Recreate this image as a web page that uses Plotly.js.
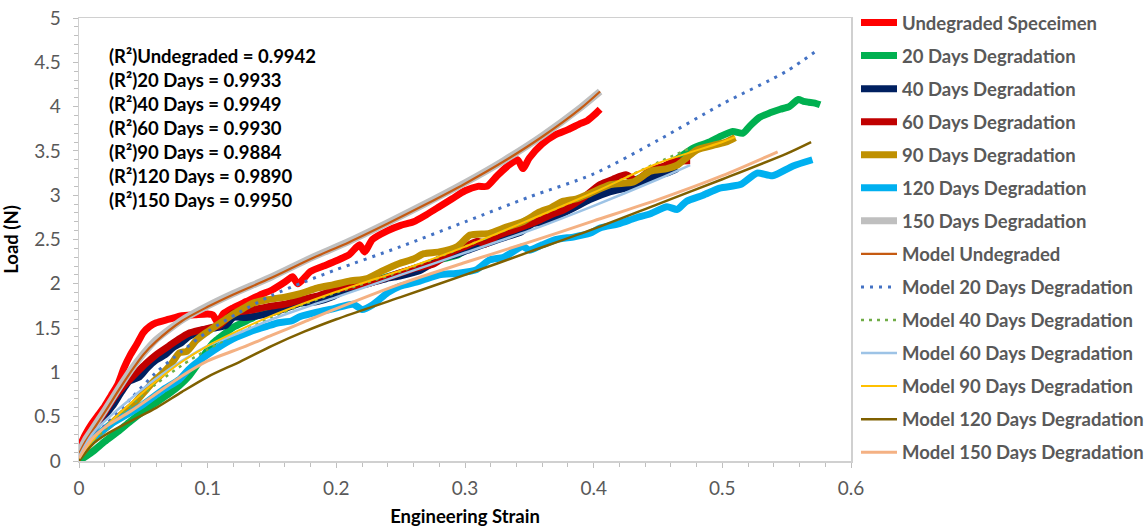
<!DOCTYPE html>
<html>
<head>
<meta charset="utf-8">
<script src="https://cdn.plot.ly/plotly-3.0.1.min.js"></script>
<style>html,body{margin:0;padding:0;background:#fff;}#chart{width:1147px;height:529px;}</style>
</head>
<body>
<div id="chart"></div>
<script>
// ---------------- data ----------------
var seriesNames = ["Undegraded Speceimen", "20 Days Degradation", "40 Days Degradation",
  "60 Days Degradation", "90 Days Degradation", "120 Days Degradation", "150 Days Degradation"];
var modelNames = ["Model Undegraded", "Model 20 Days Degradation", "Model 40 Days Degradation",
  "Model 60 Days Degradation", "Model 90 Days Degradation", "Model 120 Days Degradation",
  "Model 150 Days Degradation"];

// experimental curves
var undegradedX = [0,0.005,0.01,0.015,0.02,0.025,0.03,0.035,0.04,0.045,0.05,0.055,0.06,0.07,0.08,0.09,0.1,0.104,0.108,0.112,0.12,0.13,0.14,0.15,0.16,0.166,0.17,0.18,0.19,0.2,0.21,0.218,0.222,0.228,0.24,0.25,0.26,0.27,0.28,0.29,0.3,0.31,0.317,0.325,0.335,0.341,0.345,0.35,0.36,0.37,0.38,0.39,0.395,0.4,0.405];
var undegradedY = [0.15,0.3,0.42,0.52,0.62,0.74,0.86,1.05,1.2,1.32,1.45,1.52,1.56,1.6,1.64,1.65,1.66,1.65,1.56,1.66,1.73,1.8,1.87,1.93,2.02,2.08,2.0,2.14,2.2,2.26,2.33,2.44,2.36,2.5,2.6,2.66,2.7,2.78,2.87,2.96,3.05,3.1,3.1,3.22,3.35,3.4,3.3,3.42,3.58,3.68,3.74,3.81,3.84,3.9,3.97];

var d20X = [0,0.01,0.02,0.03,0.04,0.05,0.06,0.07,0.078,0.085,0.095,0.104,0.109,0.12,0.13,0.14,0.15,0.165,0.18,0.2,0.22,0.24,0.26,0.28,0.295,0.304,0.315,0.33,0.348,0.36,0.375,0.387,0.4,0.42,0.44,0.46,0.477,0.49,0.498,0.508,0.516,0.522,0.529,0.537,0.545,0.552,0.559,0.563,0.567,0.572,0.576];
var d20Y = [0,0.1,0.22,0.33,0.45,0.56,0.66,0.76,0.85,0.95,1.15,1.33,1.39,1.51,1.58,1.65,1.7,1.76,1.82,1.9,1.99,2.08,2.17,2.27,2.33,2.42,2.46,2.55,2.72,2.72,2.82,2.93,3.0,3.1,3.22,3.36,3.53,3.6,3.66,3.72,3.7,3.79,3.88,3.93,3.97,4.0,4.08,4.06,4.05,4.04,4.02];

var d40X = [0,0.008,0.015,0.026,0.033,0.039,0.047,0.053,0.06,0.067,0.073,0.08,0.085,0.09,0.096,0.105,0.114,0.12,0.13,0.146,0.16,0.172,0.185,0.198,0.21,0.224,0.239,0.25,0.265,0.28,0.293,0.306,0.32,0.332,0.343,0.353,0.362,0.371,0.385,0.397,0.413,0.43,0.445,0.457,0.465];
var d40Y = [0.05,0.27,0.42,0.62,0.78,0.9,0.95,1.05,1.14,1.2,1.28,1.34,1.4,1.44,1.48,1.5,1.53,1.62,1.62,1.66,1.72,1.78,1.8,1.86,1.95,2.0,2.06,2.09,2.15,2.28,2.33,2.4,2.47,2.53,2.58,2.68,2.7,2.76,2.86,2.95,3.04,3.1,3.2,3.25,3.3];

var d60X = [0,0.01,0.02,0.026,0.035,0.045,0.052,0.06,0.07,0.078,0.085,0.095,0.109,0.12,0.133,0.146,0.16,0.172,0.185,0.198,0.212,0.224,0.237,0.249,0.262,0.275,0.29,0.3,0.31,0.316,0.325,0.34,0.355,0.37,0.376,0.39,0.405,0.415,0.425,0.433,0.444,0.455,0.462,0.475];
var d60Y = [0.1,0.35,0.55,0.69,0.85,1.0,1.1,1.2,1.3,1.38,1.44,1.48,1.53,1.67,1.7,1.74,1.77,1.82,1.86,1.93,1.97,2.0,2.06,2.12,2.18,2.22,2.36,2.42,2.48,2.45,2.54,2.62,2.7,2.8,2.83,2.95,3.12,3.18,3.23,3.17,3.28,3.33,3.38,3.39];

var d90X = [0,0.015,0.025,0.034,0.043,0.052,0.058,0.065,0.072,0.078,0.084,0.091,0.098,0.104,0.109,0.117,0.125,0.135,0.146,0.16,0.172,0.185,0.198,0.21,0.224,0.235,0.249,0.26,0.268,0.28,0.294,0.304,0.319,0.332,0.345,0.358,0.367,0.376,0.387,0.397,0.413,0.431,0.444,0.457,0.465,0.472,0.48,0.495,0.503,0.51];
var d90Y = [0.05,0.3,0.42,0.54,0.65,0.8,0.9,0.99,1.1,1.22,1.24,1.36,1.44,1.5,1.55,1.63,1.7,1.78,1.82,1.85,1.89,1.95,1.99,2.03,2.06,2.14,2.23,2.28,2.34,2.36,2.42,2.55,2.57,2.64,2.7,2.81,2.86,2.93,2.96,3.02,3.12,3.15,3.27,3.3,3.34,3.42,3.51,3.57,3.6,3.65];

var d120X = [0,0.008,0.0155,0.025,0.039,0.05,0.065,0.078,0.085,0.1,0.12,0.133,0.146,0.155,0.165,0.172,0.185,0.198,0.213,0.22,0.228,0.24,0.249,0.265,0.28,0.295,0.309,0.319,0.33,0.345,0.35,0.36,0.371,0.385,0.397,0.405,0.42,0.432,0.444,0.457,0.465,0.472,0.485,0.498,0.514,0.527,0.539,0.555,0.57];
var d120Y = [0.05,0.2,0.31,0.42,0.54,0.64,0.8,0.92,1.03,1.2,1.38,1.46,1.52,1.56,1.58,1.63,1.68,1.72,1.77,1.71,1.76,1.9,1.97,2.03,2.1,2.12,2.16,2.27,2.3,2.42,2.38,2.44,2.5,2.53,2.57,2.63,2.68,2.74,2.79,2.87,2.84,2.93,3.0,3.08,3.12,3.25,3.22,3.33,3.4];

var d150X = [0,0.005,0.01,0.02,0.03,0.04,0.05,0.06,0.08,0.1,0.12,0.15,0.18,0.21,0.24,0.27,0.3,0.33,0.36,0.39,0.405];
var d150Y = [0.1,0.24,0.35,0.57,0.8,1.02,1.21,1.37,1.59,1.75,1.89,2.08,2.29,2.48,2.69,2.91,3.14,3.39,3.67,3.99,4.17];

// model curves
var mUndX = [0,0.005,0.01,0.02,0.03,0.04,0.05,0.06,0.08,0.1,0.12,0.15,0.18,0.21,0.24,0.27,0.3,0.33,0.36,0.39,0.405];
var mUndY = [0.08,0.22,0.33,0.55,0.78,1.0,1.2,1.35,1.58,1.74,1.88,2.07,2.28,2.47,2.68,2.9,3.13,3.38,3.66,3.98,4.17];

var m20X = [0.008,0.02,0.04,0.06,0.08,0.1,0.125,0.15,0.175,0.2,0.25,0.3,0.35,0.4,0.45,0.5,0.55,0.575];
var m20Y = [0.24,0.4,0.7,1.0,1.24,1.46,1.68,1.87,2.02,2.16,2.42,2.7,2.98,3.24,3.62,4.03,4.4,4.65];

var m40X = [0,0.01,0.02,0.04,0.06,0.08,0.1,0.125,0.15,0.175,0.2,0.25,0.3,0.35,0.4,0.45,0.475];
var m40Y = [0.02,0.2,0.35,0.62,0.87,1.08,1.26,1.45,1.62,1.77,1.9,2.14,2.42,2.72,3.03,3.37,3.53];

var m60X = [0,0.01,0.02,0.04,0.06,0.08,0.1,0.125,0.15,0.175,0.2,0.25,0.3,0.35,0.4,0.45,0.475];
var m60Y = [0.05,0.3,0.45,0.7,0.93,1.13,1.3,1.45,1.6,1.73,1.85,2.1,2.35,2.6,2.88,3.18,3.34];

var m90X = [0,0.01,0.02,0.04,0.06,0.08,0.1,0.125,0.15,0.175,0.2,0.25,0.3,0.35,0.4,0.45,0.5,0.51];
var m90Y = [0.02,0.22,0.38,0.65,0.9,1.12,1.3,1.48,1.64,1.78,1.91,2.15,2.42,2.72,3.03,3.36,3.6,3.66];

var m120X = [0,0.01,0.02,0.04,0.06,0.08,0.1,0.125,0.15,0.175,0.2,0.25,0.3,0.35,0.4,0.45,0.5,0.55,0.569];
var m120Y = [0,0.18,0.29,0.45,0.6,0.78,0.95,1.12,1.3,1.46,1.6,1.85,2.1,2.36,2.62,2.9,3.18,3.47,3.6];

var m150X = [0,0.01,0.02,0.04,0.06,0.08,0.1,0.125,0.15,0.175,0.2,0.25,0.3,0.35,0.4,0.45,0.5,0.543];
var m150Y = [0.03,0.25,0.38,0.56,0.76,0.96,1.13,1.27,1.42,1.57,1.72,2.0,2.24,2.47,2.71,2.95,3.22,3.49];

var r2Labels = ["(R²)Undegraded = 0.9942", "(R²)20 Days = 0.9933", "(R²)40 Days = 0.9949",
  "(R²)60 Days = 0.9930", "(R²)90 Days = 0.9884", "(R²)120 Days = 0.9890", "(R²)150 Days = 0.9950"];

var xTicks = [0, 0.1, 0.2, 0.3, 0.4, 0.5, 0.6];
var yTicks = [0, 0.5, 1, 1.5, 2, 2.5, 3, 3.5, 4, 4.5, 5];

// ---------------- styling ----------------
var expData = [[undegradedX, undegradedY], [d20X, d20Y], [d40X, d40Y], [d60X, d60Y], [d90X, d90Y], [d120X, d120Y], [d150X, d150Y]];
var expColors = ["#FF0000", "#00B050", "#002060", "#C00000", "#BF9000", "#00B0F0", "#BFBFBF"];
var modelData = [[mUndX, mUndY], [m20X, m20Y], [m40X, m40Y], [m60X, m60Y], [m90X, m90Y], [m120X, m120Y], [m150X, m150Y]];
var modelStyles = [
  {color: "#C55A11", width: 2.2, dash: "solid"},
  {color: "#4472C4", width: 3, dash: "3px,6px"},
  {color: "#70AD47", width: 2.5, dash: "3px,5px"},
  {color: "#9DC3E6", width: 2.5, dash: "solid"},
  {color: "#FFC000", width: 2, dash: "solid"},
  {color: "#7F6000", width: 2.5, dash: "solid"},
  {color: "#F4B183", width: 3, dash: "solid"}
];

var FONT = "Lato, 'Open Sans', sans-serif";
var traces = [];
expData.forEach(function (d, i) {
  traces.push({
    type: "scatter", mode: "lines", name: seriesNames[i], x: d[0], y: d[1],
    legendgroup: "e" + i,
    line: {color: expColors[i], width: 7, shape: "spline", smoothing: 0.6}
  });
});
modelData.forEach(function (d, i) {
  traces.push({
    type: "scatter", mode: "lines", name: modelNames[i], x: d[0], y: d[1],
    legendgroup: "m" + i,
    line: {color: modelStyles[i].color, width: modelStyles[i].width, dash: modelStyles[i].dash, shape: "spline", smoothing: 0.8}
  });
});

var annotations = r2Labels.map(function (t, i) {
  return {
    text: t, xref: "paper", yref: "paper", x: (107 - 79) / 772, y: (461 - (56 + 24.05 * i)) / 443,
    xanchor: "left", yanchor: "middle", showarrow: false,
    font: {family: FONT, size: 18.5, color: "#000000", weight: "bold"}
  };
});

var axisCommon = {
  showgrid: false, zeroline: false, showline: true, linecolor: "#D0D0D0", linewidth: 1.5, mirror: true,
  ticks: "outside", ticklen: 5, tickcolor: "#BFBFBF", tickwidth: 1,
  tickfont: {family: FONT, size: 19, color: "#595959"}
};

var layout = {
  width: 1147, height: 529,
  margin: {l: 79, r: 296, t: 18, b: 68, pad: 0, autoexpand: false},
  paper_bgcolor: "#ffffff", plot_bgcolor: "#ffffff",
  font: {family: FONT},
  showlegend: true,
  legend: {
    xref: "container", yref: "container",
    x: 856 / 1147, xanchor: "left", y: 1 - 4 / 529, yanchor: "top",
    traceorder: "grouped", tracegroupgap: 6, itemwidth: 36, maxheight: 529,
    font: {family: FONT, size: 18.5, color: "#595959", weight: "bold"},
    bgcolor: "rgba(0,0,0,0)", borderwidth: 0
  },
  xaxis: Object.assign({}, axisCommon, {
    range: [0, 0.6], tickvals: xTicks, ticktext: xTicks.map(String),
    minor: {dtick: 0.02, ticks: "outside", ticklen: 4, tickcolor: "#BFBFBF", showgrid: false},
    ticklabelstandoff: 5,
    title: {text: "Engineering Strain", font: {family: FONT, size: 18.5, color: "#000000", weight: "bold"}, standoff: 12}
  }),
  yaxis: Object.assign({}, axisCommon, {
    range: [0, 5], tickvals: yTicks, ticktext: yTicks.map(String),
    minor: {dtick: 0.1, ticks: "outside", ticklen: 4, tickcolor: "#BFBFBF", showgrid: false},
    ticklabelstandoff: 8,
    title: {text: "Load (N)", font: {family: FONT, size: 18.5, color: "#000000", weight: "bold"}, standoff: 10}
  }),
  annotations: annotations
};

Plotly.newPlot("chart", traces, layout, {displayModeBar: false, staticPlot: true});
</script>
</body>
</html>
